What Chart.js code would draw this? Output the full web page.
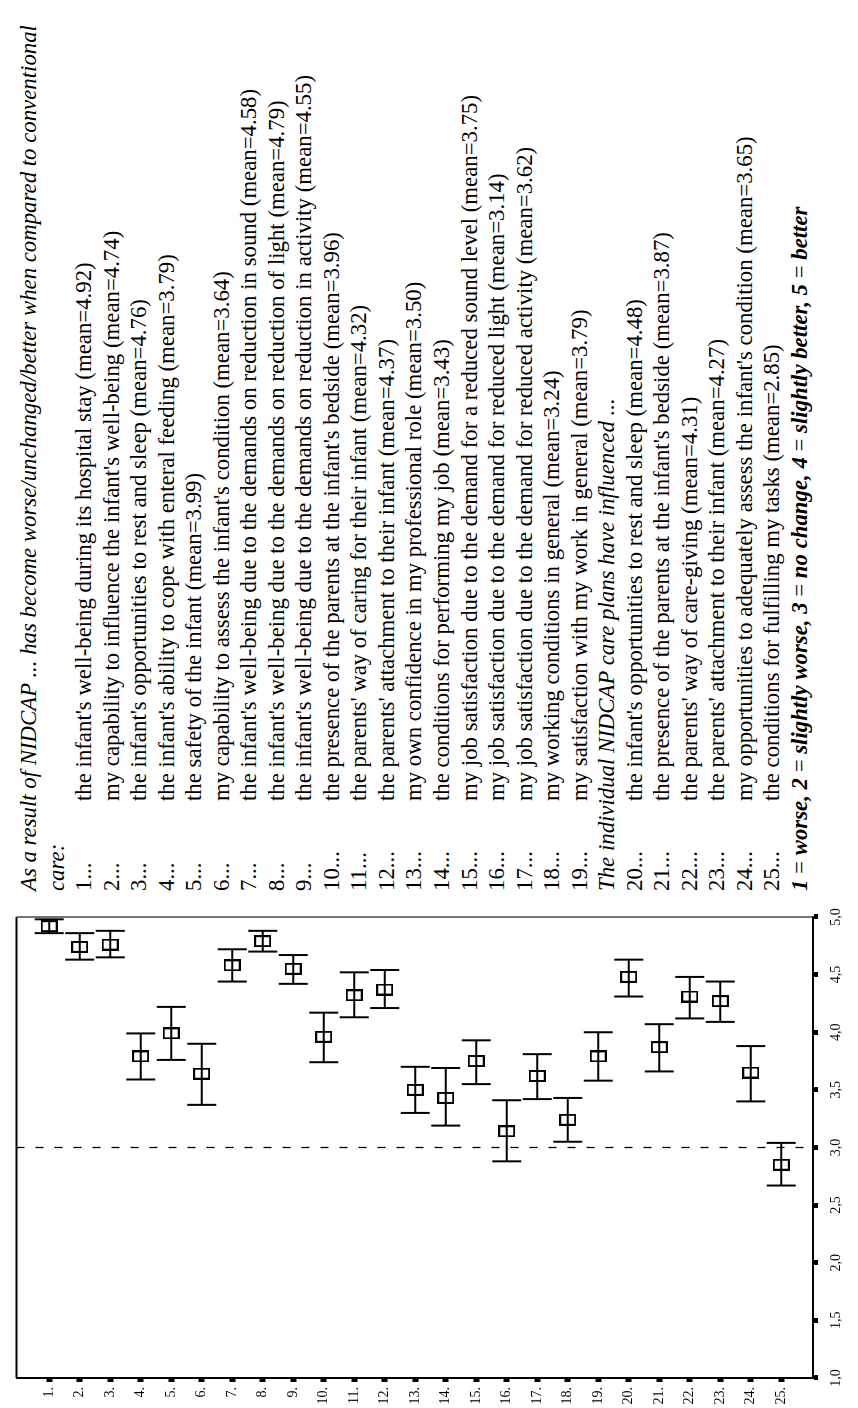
<!DOCTYPE html>
<html>
<head>
<meta charset="utf-8">
<script src="https://cdn.jsdelivr.net/npm/chart.js@4"></script>
<style>
  html, body { margin: 0; padding: 0; background: #fff; }
  body { width: 858px; height: 1408px; overflow: hidden; position: relative; }
  /* the figure is laid out landscape and turned a quarter to the left */
  #figura {
    position: absolute; left: 0; top: 0;
    width: 1408px; height: 858px;
    transform-origin: 0 0;
    transform: translate(0px, 1408px) rotate(-90deg);
    background: #fff;
  }
  #grafico { position: absolute; left: 0; top: 0; }
  #texto {
    position: absolute; left: 517px; top: 15px;
    font-family: 'Liberation Serif', 'Times New Roman', serif;
    font-size: 22.8px; line-height: 27.54px; color: #000;
  }
  #texto div { white-space: nowrap; height: 27.54px; }
  #texto .num { display: inline-block; width: 90px; }
  #texto .it { font-style: italic; }
  #texto .bi { font-style: italic; font-weight: bold; }
</style>
</head>
<body>
<div id="figura">
  <canvas id="grafico" width="510" height="858"></canvas>
  <div id="texto"></div>
</div>
<script>
// Dados
const itens = ['1.', '2.', '3.', '4.', '5.', '6.', '7.', '8.', '9.', '10.', '11.', '12.', '13.',
    '14.', '15.', '16.', '17.', '18.', '19.', '20.', '21.', '22.', '23.', '24.', '25.'];

const medias = [4.92, 4.74, 4.76, 3.79, 3.99, 3.64, 4.58, 4.79, 4.55, 3.96, 4.32, 4.37, 3.50,
    3.43, 3.75, 3.14, 3.62, 3.24, 3.79, 4.48, 3.87, 4.31, 4.27, 3.65, 2.85];

const inferior = [4.86, 4.63, 4.65, 3.59, 3.76, 3.37, 4.44, 4.70, 4.42, 3.74, 4.13, 4.21, 3.30,
    3.19, 3.55, 2.88, 3.42, 3.05, 3.58, 4.31, 3.66, 4.12, 4.09, 3.40, 2.67];

const superior = [4.98, 4.86, 4.88, 3.99, 4.22, 3.90, 4.72, 4.88, 4.67, 4.17, 4.52, 4.54, 3.70,
    3.69, 3.93, 3.41, 3.81, 3.43, 4.00, 4.63, 4.07, 4.48, 4.44, 3.88, 3.04];

const ticksX = [1, 1.5, 2, 2.5, 3, 3.5, 4, 4.5, 5];
const rotulosX = ['1,0', '1,5', '2,0', '2,5', '3,0', '3,5', '4,0', '4,5', '5,0'];

const valorReferencia = 3;

const titulo1 = 'As a result of NIDCAP ... has become worse/unchanged/better when compared to conventional';
const titulo2 = 'care:';
const subtitulo = 'The individual NIDCAP care plans have influenced ...';

const frases = [
    "the infant's well-being during its hospital stay",
    "my capability to influence the infant's well-being",
    "the infant's opportunities to rest and sleep",
    "the infant's ability to cope with enteral feeding",
    "the safety of the infant",
    "my capability to assess the infant's condition",
    "the infant's well-being due to the demands on reduction in sound",
    "the infant's well-being due to the demands on reduction of light",
    "the infant's well-being due to the demands on reduction in activity",
    "the presence of the parents at the infant's bedside",
    "the parents' way of caring for their infant",
    "the parents' attachment to their infant",
    "my own confidence in my professional role",
    "the conditions for performing my job",
    "my job satisfaction due to the demand for a reduced sound level",
    "my job satisfaction due to the demand for reduced light",
    "my job satisfaction due to the demand for reduced activity",
    "my working conditions in general",
    "my satisfaction with my work in general",
    "the infant's opportunities to rest and sleep",
    "the presence of the parents at the infant's bedside",
    "the parents' way of care-giving",
    "the parents' attachment to their infant",
    "my opportunities to adequately assess the infant's condition",
    "the conditions for fulfilling my tasks"
];

const escala = [
    ['1', 'worse'], ['2', 'slightly worse'], ['3', 'no change'],
    ['4', 'slightly better'], ['5', 'better']
];

//Texto à direita
function montaTexto() {
    let caixa = document.getElementById('texto');
    let html = '';
    html += `<div class="it">${titulo1}</div>`;
    html += `<div class="it">${titulo2}</div>`;
    frases.forEach((f, i) => {
        if (i === 19) {
            html += `<div class="it">${subtitulo}</div>`;
        }
        html += `<div><span class="num">${i + 1}...</span>${f} (mean=${medias[i].toFixed(2)})</div>`;
    });
    let partes = escala.map((e) => `<span class="bi">${e[0]}</span> = <span class="bi">${e[1]}</span>`);
    html += `<div>${partes.join('<span class="bi">,</span> ')}</div>`;
    caixa.innerHTML = html;
}

//Marcador da média (retângulo vazado)
function marcador() {
    let c = document.createElement('canvas');
    c.width = 12;
    c.height = 17;
    let ctx = c.getContext('2d');
    ctx.strokeStyle = '#000';
    ctx.lineWidth = 2;
    ctx.strokeRect(1, 1, 10, 15);
    return c;
}

const yMin = -0.07;
const yMax = 26.04;

function montaGrafico() {
    let hastes = [];
    let pontas = [];
    let pontosMedia = [];

    itens.forEach((rotulo, i) => {
        hastes.push({ x: inferior[i], y: i + 1 }, { x: superior[i], y: i + 1 }, { x: null, y: null });
        pontas.push({ x: inferior[i], y: i + 1 }, { x: superior[i], y: i + 1 });
        pontosMedia.push({ x: medias[i], y: i + 1 });
    });

    const moldura = {
        id: 'moldura',
        afterDraw(chart) {
            let a = chart.chartArea;
            let ctx = chart.ctx;
            ctx.save();
            ctx.strokeStyle = '#000';
            ctx.lineWidth = 2;
            ctx.beginPath();
            ctx.moveTo(a.left, a.top);
            ctx.lineTo(a.right, a.top);
            ctx.stroke();
            ctx.strokeStyle = '#444';
            ctx.lineWidth = 1.5;
            ctx.beginPath();
            ctx.moveTo(a.right, a.top);
            ctx.lineTo(a.right, a.bottom);
            ctx.stroke();
            ctx.restore();
        }
    };

    const fonte = { family: "'Liberation Serif', 'Times New Roman', serif", size: 14 };

    const config = {
        type: 'scatter',
        data: {
            datasets: [
                {
                    label: 'referencia',
                    data: [{ x: valorReferencia, y: yMin }, { x: valorReferencia, y: yMax }],
                    showLine: true,
                    borderColor: '#000',
                    borderWidth: 1.3,
                    borderDash: [8, 11],
                    pointRadius: 0
                },
                {
                    label: 'intervalo',
                    data: hastes,
                    showLine: true,
                    spanGaps: false,
                    borderColor: '#000',
                    borderWidth: 2,
                    pointRadius: 0
                },
                {
                    label: 'pontas',
                    data: pontas,
                    pointStyle: 'line',
                    rotation: 90,
                    radius: 14.5,
                    borderColor: '#000',
                    borderWidth: 2
                },
                {
                    label: 'media',
                    data: pontosMedia,
                    pointStyle: marcador(),
                    borderColor: '#000'
                }
            ]
        },
        options: {
            responsive: false,
            animation: false,
            layout: { padding: { top: 10, right: 19, left: 0, bottom: 0 } },
            plugins: { legend: { display: false }, tooltip: { enabled: false } },
            scales: {
                x: {
                    type: 'linear',
                    min: 1,
                    max: 5,
                    afterFit: (s) => { s.height = 45; },
                    afterBuildTicks: (s) => { s.ticks = ticksX.map((v) => ({ value: v })); },
                    ticks: {
                        callback: (v) => rotulosX[ticksX.indexOf(v)],
                        font: fonte,
                        color: '#000',
                        padding: 10,
                        maxRotation: 0
                    },
                    grid: {
                        drawOnChartArea: false,
                        tickLength: 5,
                        tickWidth: 5,
                        tickColor: '#000'
                    },
                    border: { display: true, width: 2, color: '#000' }
                },
                y: {
                    type: 'linear',
                    min: yMin,
                    max: yMax,
                    reverse: true,
                    afterFit: (s) => { s.width = 30; },
                    afterBuildTicks: (s) => { s.ticks = itens.map((r, i) => ({ value: i + 1 })); },
                    ticks: {
                        callback: (v) => itens[v - 1],
                        font: fonte,
                        color: '#000',
                        padding: 5
                    },
                    grid: {
                        drawOnChartArea: false,
                        tickLength: 4,
                        tickWidth: 6,
                        tickColor: '#000'
                    },
                    border: { display: true, width: 2, color: '#000' }
                }
            }
        },
        plugins: [moldura]
    };

    const meuGrafico = new Chart(document.getElementById('grafico'), config);
}

montaTexto();
montaGrafico();
</script>
</body>
</html>
